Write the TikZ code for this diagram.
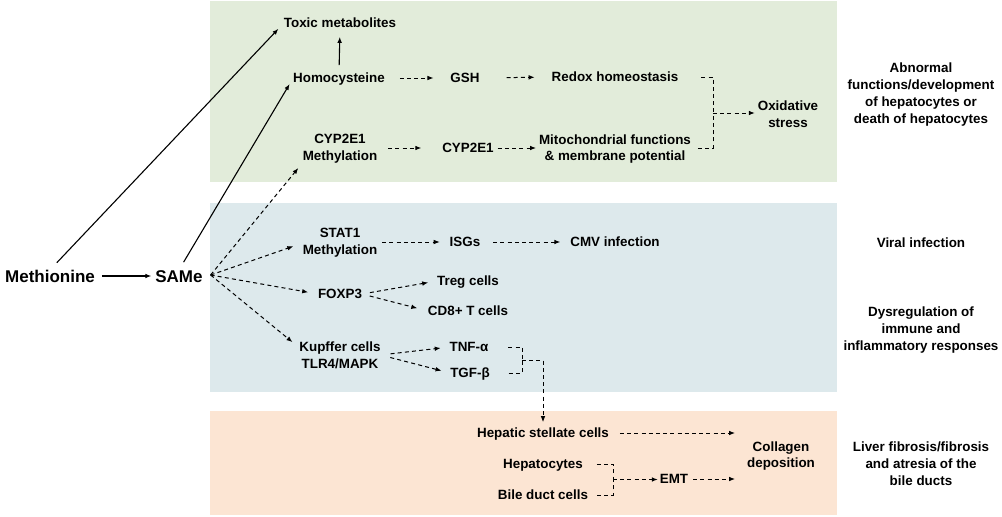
\documentclass[tikz,border=0pt]{standalone}
\usepackage{fontspec}
\setmainfont{Liberation Sans}
\usetikzlibrary{arrows.meta,calc}
\definecolor{gbox}{HTML}{E2ECDA}
\definecolor{bbox}{HTML}{DDE9EC}
\definecolor{obox}{HTML}{FCE5D3}
\begin{document}
\begin{tikzpicture}[x=1pt,y=-1pt,
  lbl/.style={font=\bfseries\fontsize{13.4}{16.8}\selectfont, inner sep=0pt, outer sep=0pt},
  one/.style={lbl, text height=9.6pt, text depth=0pt},
  two/.style={lbl, align=center},
  big/.style={font=\bfseries\fontsize{17}{20}\selectfont, inner sep=0pt, outer sep=0pt, text height=12.2pt, text depth=0pt},
  tip/.style={-{Latex[length=6pt,width=4.6pt]}},
  sl/.style={line width=1.1pt, tip},
  da/.style={line width=1pt, dash pattern=on 4pt off 3.2pt, tip},
  dl/.style={line width=1pt, dash pattern=on 4pt off 3.2pt},
]
\useasboundingbox (0,0) rectangle (1002,517);
\fill[gbox] (210,1) rectangle (837,182);
\fill[bbox] (210,203) rectangle (837,392);
\fill[obox] (210,411) rectangle (837,515);

% top panel
\node[one] (tox) at (340,23) {Toxic metabolites};
\node[one] (homo) at (339,78) {Homocysteine};
\node[one] (gsh) at (465,78) {GSH};
\node[one] (redox) at (615,77) {Redox homeostasis};
\node[two] (cypm) at (340,149) {CYP2E1\\Methylation};
\node[one] (cyp) at (468,148) {CYP2E1};
\node[two] (mito) at (615,149) {Mitochondrial functions\\\& membrane potential};
\node[two] (ox) at (788,114) {Oxidative\\stress};
\node[two] (r1) at (921,94.5) {Abnormal\\functions/development\\of hepatocytes or\\death of hepatocytes};

% left
\node[big] (meth) at (50,276) {Methionine};
\node[big] (same) at (179,276) {SAMe};

% middle panel
\node[two] (stat) at (340,243) {STAT1\\Methylation};
\node[one] (isgs) at (465,242) {ISGs};
\node[one] (cmv) at (615,242) {CMV infection};
\node[one] (foxp) at (340,294) {FOXP3};
\node[one] (treg) at (468,281) {Treg cells};
\node[one] (cd8) at (468,311) {CD8+ T cells};
\node[two] (kup) at (340,355) {Kupffer cells\\TLR4/MAPK};
\node[one] (tnf) at (469,347) {TNF-α};
\node[one] (tgf) at (470,373) {TGF-β};
\node[one] (r2) at (921,243) {Viral infection};
\node[two] (r3) at (921,330) {Dysregulation of\\immune and\\inflammatory responses};

% bottom panel
\node[one] (hsc) at (543,433) {Hepatic stellate cells};
\node[one] (hepa) at (543,464) {Hepatocytes};
\node[one] (bile) at (543,495) {Bile duct cells};
\node[one] (emt) at (674,479) {EMT};
\node[two] (coll) at (781,456) {Collagen\\deposition};
\node[two] (r4) at (921,464) {Liver fibrosis/fibrosis\\and atresia of the\\bile ducts};

% solid connectors
\draw[sl, shorten <=7pt, shorten >=4pt] (meth.east) -- (same.west);
\draw[sl, shorten <=10pt, shorten >=8pt] (meth.north) -- (tox.west);
\draw[sl, shorten <=9pt, shorten >=7pt] (same.north) -- (homo.west);
\draw[sl, shorten <=8pt, shorten >=9pt] (homo.north) -- (tox.south);

% top dashed
\draw[da, shorten <=15pt, shorten >=17pt] (homo.east) -- (gsh.west);
\draw[da, shorten <=27pt, shorten >=17pt] (gsh.east) -- (redox.west);
\draw[da, shorten <=11pt, shorten >=21pt] (cypm.east |- cyp.west) -- (cyp.west);
\draw[da, shorten <=4pt, shorten >=3pt] (cyp.east) -- (cyp.east -| mito.west);
\coordinate (jo) at (713,113);
\draw[dl, shorten <=23pt] (redox.east) -| (jo);
\draw[dl, shorten <=7pt] (mito.east |- cyp.east) -| (jo);
\draw[da, shorten >=3pt] (jo) -- (jo -| ox.west);

% fan from SAMe
\coordinate (fan) at ($(same.east)+(8,-1)$);
\draw[da, shorten >=7pt] (fan) -- (cypm.200);
\draw[da, shorten >=10pt] (fan) -- (stat.west);
\draw[da, shorten >=10pt] (fan) -- (foxp.west);
\draw[da, shorten >=9pt] (fan) -- (kup.170);

% middle dashed
\draw[da, shorten <=5pt, shorten >=10pt] (stat.east |- isgs.west) -- (isgs.west);
\draw[da, shorten <=13pt, shorten >=10pt] (isgs.east) -- (cmv.west);
\draw[da, shorten <=8pt, shorten >=9pt] (foxp.east) -- (treg.west);
\draw[da, shorten <=8pt, shorten >=11pt] (foxp.east) -- (cd8.west);
\draw[da, shorten <=10pt, shorten >=9pt] (kup.east) -- (tnf.west);
\draw[da, shorten <=10pt, shorten >=9pt] (kup.east) -- (tgf.west);
\coordinate (jt) at (522,360);
\draw[dl, shorten <=20pt] (tnf.east) -| (jt);
\draw[dl, shorten <=19pt] (tgf.east) -| (jt);
\draw[da, shorten >=6pt] (jt) -| (hsc.north);

% bottom dashed
\draw[da, shorten <=11pt, shorten >=12pt] (hsc.east) -- (hsc.east -| coll.west);
\coordinate (jh) at (613,479.5);
\draw[dl, shorten <=14pt] (hepa.east) -| (jh);
\draw[dl, shorten <=9pt] (bile.east) -| (jh);
\draw[da, shorten >=2pt] (jh) -- (jh -| emt.west);
\draw[da, shorten <=5pt, shorten >=12pt] (emt.east) -- (emt.east -| coll.west);
\end{tikzpicture}
\end{document}
